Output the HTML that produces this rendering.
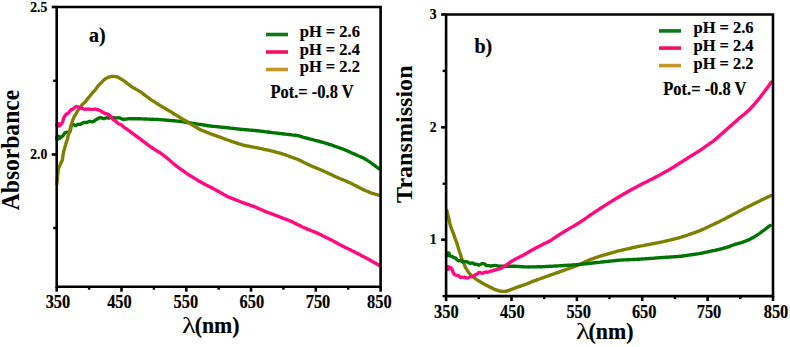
<!DOCTYPE html>
<html><head><meta charset="utf-8"><style>
html,body{margin:0;padding:0;background:#fff;}
body{width:790px;height:347px;overflow:hidden;}
svg{display:block;}
</style></head><body>
<svg width="790" height="347" viewBox="0 0 790 347">
<style>
text{font-family:"Liberation Serif",serif;font-weight:bold;fill:#000;stroke:#000;stroke-width:0.2px;}
.yt{font-size:14.2px;}
.xt{font-size:18.2px;}
.lg{font-size:17.1px;}
.pot{font-size:17.8px;}
.ttl{font-size:25.3px;stroke-width:0;}
.lam{font-size:23px;}
.lamg{font-size:23px;font-weight:normal;stroke-width:0.05px;}
.pl{font-size:20px;}
</style>
<rect width="790" height="347" fill="#fff"/>
<g fill="none" stroke-width="3.4" stroke-linejoin="round" stroke-linecap="round">
<path d="M56.7,138.9 C56.9,138.9 57.7,139.0 58.2,138.9 C58.7,138.7 59.2,138.4 59.7,138.1 C60.2,137.8 60.6,137.4 61.0,137.1 C61.5,136.8 61.8,136.6 62.2,136.4 C62.5,136.1 62.8,135.9 63.1,135.5 C63.4,135.1 63.7,134.7 64.0,134.2 C64.3,133.8 64.6,133.4 64.9,133.0 C65.3,132.7 65.6,132.4 66.1,132.3 C66.5,132.1 67.1,132.1 67.5,132.2 C68.0,132.3 68.3,132.9 68.6,132.9 C69.0,132.9 69.2,132.5 69.5,132.3 C69.7,132.0 69.9,131.8 70.0,131.4 C70.2,131.0 70.3,130.5 70.4,130.0 C70.6,129.4 70.7,128.6 70.8,128.0 C70.9,127.3 71.0,126.6 71.2,126.1 C71.5,125.5 71.8,124.8 72.2,124.6 C72.6,124.3 73.2,124.4 73.6,124.6 C74.1,124.7 74.5,125.4 75.0,125.5 C75.4,125.6 75.9,125.4 76.3,125.2 C76.8,125.0 77.3,124.5 77.7,124.4 C78.2,124.2 78.6,124.3 79.0,124.3 C79.5,124.3 80.0,124.5 80.4,124.3 C80.9,124.2 81.4,123.8 81.9,123.5 C82.4,123.2 82.8,122.8 83.3,122.6 C83.8,122.4 84.3,122.4 84.8,122.4 C85.3,122.4 85.8,122.6 86.3,122.5 C86.8,122.5 87.3,122.2 87.8,122.1 C88.2,121.9 88.7,121.6 89.2,121.5 C89.7,121.4 90.2,121.4 90.7,121.4 C91.2,121.5 91.7,121.8 92.1,121.8 C92.6,121.8 93.1,121.7 93.6,121.4 C94.1,121.2 94.6,120.6 95.1,120.2 C95.5,119.9 96.0,119.7 96.5,119.5 C97.0,119.2 97.4,119.0 97.9,118.7 C98.4,118.4 98.8,118.0 99.3,117.9 C99.8,117.7 100.3,117.7 100.8,117.7 C101.3,117.8 101.8,118.0 102.3,118.2 C102.8,118.3 103.3,118.6 103.8,118.6 C104.3,118.6 104.8,118.3 105.3,118.2 C105.8,118.1 106.3,117.8 106.8,117.8 C107.3,117.8 107.8,118.1 108.3,118.1 C108.8,118.2 109.3,118.0 109.8,117.9 C110.3,117.8 110.8,117.5 111.3,117.4 C111.8,117.4 112.3,117.6 112.8,117.6 C113.3,117.7 113.8,117.8 114.3,117.8 C114.8,117.9 115.3,117.9 115.8,117.9 C116.3,117.9 116.8,117.9 117.3,117.9 C117.8,117.8 118.3,117.6 118.8,117.6 C119.3,117.7 119.8,118.0 120.3,118.2 C120.8,118.4 121.3,118.8 121.7,119.0 C122.2,119.2 122.7,119.2 123.2,119.2 C123.7,119.3 124.2,119.3 124.7,119.2 C125.2,119.2 125.7,119.2 126.2,119.1 C126.7,119.1 127.2,118.9 127.7,118.8 C128.2,118.7 128.7,118.7 129.2,118.6 C129.7,118.6 130.2,118.7 130.7,118.7 C131.2,118.7 131.7,118.7 132.2,118.7 C132.7,118.7 133.2,118.7 133.7,118.7 C134.2,118.7 134.7,118.7 135.2,118.7 C135.7,118.7 136.2,118.7 136.7,118.8 C137.2,118.8 137.7,118.8 138.2,118.8 C138.7,118.8 139.2,118.8 139.7,118.8 C140.2,118.8 140.7,118.8 141.2,118.9 C141.7,118.9 142.2,118.9 142.7,118.9 C143.2,118.9 143.7,118.9 144.2,119.0 C144.7,119.0 145.2,119.0 145.7,119.0 C146.2,119.0 146.7,119.1 147.2,119.1 C147.7,119.1 148.2,119.1 148.7,119.1 C149.2,119.2 149.7,119.2 150.2,119.2 C150.7,119.2 151.2,119.2 151.7,119.3 C152.2,119.3 152.7,119.3 153.2,119.3 C153.7,119.3 154.2,119.4 154.7,119.4 C155.2,119.4 155.7,119.4 156.2,119.4 C156.7,119.5 157.2,119.5 157.7,119.5 C158.2,119.5 158.7,119.6 159.2,119.6 C159.7,119.6 160.2,119.6 160.7,119.7 C161.2,119.7 161.7,119.7 162.2,119.8 C162.7,119.8 163.2,119.9 163.7,119.9 C164.2,120.0 164.7,120.0 165.2,120.0 C165.7,120.1 166.2,120.1 166.7,120.2 C167.2,120.2 167.7,120.3 168.2,120.3 C168.7,120.3 169.2,120.4 169.7,120.4 C170.2,120.5 170.7,120.5 171.2,120.6 C171.7,120.6 172.2,120.6 172.7,120.7 C173.2,120.7 173.7,120.8 174.2,120.8 C174.7,120.8 175.2,120.9 175.7,120.9 C176.2,121.0 176.7,121.0 177.2,121.1 C177.7,121.1 178.2,121.1 178.7,121.2 C179.2,121.2 179.7,121.3 180.2,121.3 C180.7,121.4 181.1,121.5 181.6,121.6 C182.1,121.6 182.6,121.7 183.1,121.8 C183.6,121.9 184.1,121.9 184.6,122.0 C185.1,122.1 185.6,122.2 186.1,122.2 C186.6,122.3 187.1,122.4 187.6,122.5 C188.1,122.6 188.6,122.6 189.1,122.7 C189.5,122.8 190.0,122.9 190.5,122.9 C191.0,123.0 191.5,123.1 192.0,123.2 C192.5,123.2 193.0,123.3 193.5,123.4 C194.0,123.5 194.5,123.5 195.0,123.6 C195.5,123.7 196.0,123.8 196.5,123.9 C197.0,123.9 197.5,124.0 197.9,124.1 C198.4,124.2 198.9,124.2 199.4,124.3 C199.9,124.4 200.4,124.5 200.9,124.5 C201.4,124.6 201.9,124.7 202.4,124.8 C202.9,124.9 203.4,124.9 203.9,125.0 C204.4,125.1 204.9,125.2 205.4,125.3 C205.8,125.3 206.3,125.4 206.8,125.5 C207.3,125.6 207.8,125.7 208.3,125.7 C208.8,125.8 209.3,125.9 209.8,126.0 C210.3,126.0 210.8,126.1 211.3,126.1 C211.8,126.2 212.3,126.2 212.8,126.3 C213.3,126.3 213.8,126.4 214.3,126.4 C214.8,126.5 215.3,126.5 215.8,126.6 C216.3,126.6 216.8,126.7 217.3,126.7 C217.8,126.8 218.3,126.8 218.8,126.9 C219.3,126.9 219.7,127.0 220.2,127.0 C220.7,127.1 221.2,127.1 221.7,127.2 C222.2,127.2 222.7,127.3 223.2,127.3 C223.7,127.4 224.2,127.4 224.7,127.5 C225.2,127.5 225.7,127.6 226.2,127.6 C226.7,127.7 227.2,127.7 227.7,127.8 C228.2,127.8 228.7,127.9 229.2,127.9 C229.7,128.0 230.2,128.0 230.7,128.1 C231.2,128.1 231.7,128.2 232.2,128.3 C232.7,128.3 233.2,128.4 233.7,128.4 C234.2,128.5 234.7,128.6 235.2,128.6 C235.7,128.7 236.2,128.7 236.6,128.8 C237.1,128.9 237.6,128.9 238.1,129.0 C238.6,129.0 239.1,129.1 239.6,129.1 C240.1,129.2 240.6,129.2 241.1,129.3 C241.6,129.3 242.1,129.4 242.6,129.4 C243.1,129.5 243.6,129.5 244.1,129.6 C244.6,129.6 245.1,129.7 245.6,129.7 C246.1,129.7 246.6,129.8 247.1,129.8 C247.6,129.9 248.1,129.9 248.6,130.0 C249.1,130.0 249.6,130.1 250.1,130.1 C250.6,130.1 251.1,130.2 251.6,130.2 C252.1,130.3 252.6,130.3 253.1,130.4 C253.6,130.4 254.1,130.4 254.6,130.5 C255.1,130.5 255.6,130.6 256.1,130.6 C256.6,130.7 257.1,130.7 257.6,130.8 C258.1,130.8 258.5,130.9 259.0,131.0 C259.5,131.0 260.0,131.1 260.5,131.1 C261.0,131.2 261.5,131.3 262.0,131.3 C262.5,131.4 263.0,131.4 263.5,131.5 C264.0,131.6 264.5,131.6 265.0,131.7 C265.5,131.7 266.0,131.8 266.5,131.9 C267.0,131.9 267.5,132.0 268.0,132.0 C268.5,132.1 269.0,132.2 269.5,132.2 C270.0,132.3 270.5,132.3 271.0,132.4 C271.5,132.5 271.9,132.5 272.4,132.6 C272.9,132.6 273.4,132.7 273.9,132.8 C274.4,132.8 274.9,132.9 275.4,132.9 C275.9,133.0 276.4,133.1 276.9,133.1 C277.4,133.2 277.9,133.2 278.4,133.3 C278.9,133.4 279.4,133.4 279.9,133.5 C280.4,133.5 280.9,133.6 281.4,133.7 C281.9,133.7 282.4,133.8 282.9,133.8 C283.4,133.9 283.9,134.0 284.4,134.0 C284.9,134.1 285.4,134.1 285.9,134.2 C286.3,134.2 286.8,134.3 287.3,134.4 C287.8,134.4 288.3,134.5 288.8,134.5 C289.3,134.6 289.8,134.6 290.3,134.7 C290.8,134.8 291.3,134.8 291.8,134.9 C292.3,134.9 292.8,135.0 293.3,135.1 C293.8,135.1 294.3,135.2 294.8,135.2 C295.3,135.3 295.8,135.3 296.3,135.4 C296.8,135.5 297.3,135.5 297.8,135.6 C298.2,135.7 298.7,135.8 299.2,136.0 C299.7,136.1 300.2,136.3 300.7,136.4 C301.1,136.5 301.6,136.7 302.1,136.8 C302.6,137.0 303.1,137.1 303.5,137.3 C304.0,137.4 304.5,137.5 305.0,137.7 C305.5,137.8 305.9,137.9 306.4,138.1 C306.9,138.2 307.4,138.3 307.9,138.4 C308.4,138.6 308.8,138.7 309.3,138.8 C309.8,138.9 310.3,139.0 310.8,139.2 C311.3,139.3 311.8,139.4 312.2,139.5 C312.7,139.7 313.2,139.8 313.7,139.9 C314.2,140.0 314.7,140.2 315.1,140.3 C315.6,140.4 316.1,140.5 316.6,140.6 C317.1,140.8 317.6,140.9 318.1,141.0 C318.5,141.2 319.0,141.3 319.5,141.4 C320.0,141.6 320.5,141.7 320.9,141.8 C321.4,142.0 321.9,142.1 322.4,142.2 C322.9,142.4 323.3,142.5 323.8,142.7 C324.3,142.8 324.8,142.9 325.3,143.1 C325.8,143.2 326.2,143.3 326.7,143.5 C327.2,143.6 327.7,143.7 328.2,143.9 C328.6,144.0 329.1,144.2 329.6,144.3 C330.1,144.4 330.5,144.6 331.0,144.8 C331.5,144.9 332.0,145.1 332.4,145.3 C332.9,145.4 333.4,145.6 333.9,145.8 C334.3,145.9 334.8,146.1 335.3,146.3 C335.7,146.4 336.2,146.6 336.7,146.8 C337.2,146.9 337.6,147.1 338.1,147.3 C338.6,147.4 339.0,147.6 339.5,147.8 C340.0,147.9 340.5,148.1 340.9,148.3 C341.4,148.4 341.9,148.6 342.3,148.8 C342.8,149.0 343.3,149.1 343.7,149.3 C344.2,149.5 344.6,149.7 345.1,149.9 C345.6,150.1 346.0,150.3 346.5,150.5 C346.9,150.7 347.4,150.9 347.8,151.1 C348.3,151.3 348.8,151.5 349.2,151.7 C349.7,151.9 350.1,152.2 350.6,152.4 C351.0,152.6 351.5,152.8 352.0,153.0 C352.4,153.2 352.9,153.4 353.3,153.6 C353.8,153.8 354.2,154.0 354.7,154.2 C355.2,154.4 355.6,154.6 356.1,154.8 C356.5,155.0 357.0,155.2 357.5,155.4 C357.9,155.6 358.4,155.8 358.8,156.0 C359.3,156.2 359.7,156.4 360.2,156.6 C360.7,156.8 361.1,157.0 361.6,157.2 C362.0,157.4 362.5,157.6 362.9,157.8 C363.4,158.1 363.8,158.3 364.2,158.6 C364.7,158.8 365.1,159.1 365.5,159.3 C366.0,159.6 366.4,159.8 366.8,160.1 C367.2,160.3 367.7,160.6 368.1,160.9 C368.5,161.1 369.0,161.4 369.4,161.7 C369.8,161.9 370.2,162.2 370.6,162.5 C371.0,162.8 371.4,163.1 371.8,163.4 C372.2,163.7 372.6,164.0 373.0,164.3 C373.4,164.6 373.8,164.9 374.2,165.2 C374.6,165.5 375.0,165.8 375.4,166.1 C375.8,166.4 376.2,166.7 376.6,167.0 C377.0,167.3 377.4,167.6 377.8,167.9 C378.2,168.2 378.8,168.6 379.0,168.8" stroke="#007400"/>
<path d="M56.9,184.3 C56.9,184.0 57.0,183.2 57.0,182.7 C57.1,182.2 57.1,181.6 57.2,181.1 C57.2,180.6 57.3,180.2 57.3,179.7 C57.3,179.2 57.4,178.6 57.4,178.0 C57.5,177.4 57.5,176.7 57.6,176.2 C57.6,175.7 57.7,175.4 57.7,175.0 C57.7,174.6 57.8,174.3 57.8,173.8 C57.9,173.4 57.9,172.8 58.0,172.3 C58.0,171.7 58.1,171.1 58.1,170.6 C58.2,170.1 58.3,169.7 58.4,169.3 C58.5,168.8 58.6,168.4 58.8,167.9 C58.9,167.5 59.1,167.1 59.3,166.6 C59.6,166.1 59.8,165.6 60.0,165.1 C60.2,164.6 60.4,164.0 60.7,163.6 C60.9,163.1 61.1,162.7 61.3,162.3 C61.5,161.9 61.7,161.5 61.9,161.1 C62.0,160.7 62.1,160.4 62.3,160.0 C62.4,159.5 62.5,159.0 62.6,158.5 C62.7,157.9 62.7,157.2 62.8,156.6 C62.9,156.0 63.0,155.4 63.1,154.9 C63.2,154.4 63.2,154.1 63.3,153.6 C63.4,153.1 63.5,152.6 63.6,152.1 C63.7,151.6 63.8,151.1 63.9,150.7 C64.0,150.3 64.1,150.1 64.2,149.7 C64.4,149.3 64.5,148.9 64.6,148.4 C64.8,147.9 64.9,147.2 65.0,146.7 C65.2,146.1 65.3,145.6 65.5,145.1 C65.6,144.5 65.7,144.1 65.9,143.6 C66.0,143.1 66.2,142.4 66.4,141.9 C66.6,141.3 66.7,140.8 66.9,140.4 C67.1,140.0 67.2,139.8 67.4,139.3 C67.5,138.8 67.6,138.2 67.8,137.6 C67.9,137.0 68.0,136.2 68.1,135.7 C68.3,135.1 68.4,134.8 68.5,134.4 C68.7,134.1 68.8,134.1 68.9,133.8 C69.0,133.5 69.2,133.2 69.3,132.7 C69.4,132.2 69.5,131.6 69.7,131.0 C69.8,130.4 69.9,129.8 70.1,129.2 C70.2,128.7 70.3,128.2 70.5,127.7 C70.6,127.1 70.8,126.6 70.9,126.1 C71.0,125.6 71.2,125.1 71.3,124.6 C71.4,124.1 71.6,123.5 71.7,123.1 C71.9,122.6 72.0,122.1 72.2,121.7 C72.3,121.3 72.5,121.0 72.6,120.5 C72.8,120.1 72.9,119.6 73.1,119.2 C73.3,118.7 73.5,118.3 73.7,117.8 C73.9,117.4 74.1,117.0 74.4,116.6 C74.6,116.1 74.9,115.7 75.1,115.2 C75.4,114.8 75.6,114.5 75.9,114.0 C76.2,113.6 76.4,113.1 76.7,112.6 C77.0,112.0 77.3,111.4 77.5,110.9 C77.8,110.4 78.1,110.2 78.4,109.8 C78.7,109.4 79.0,109.1 79.2,108.7 C79.5,108.3 79.8,107.8 80.1,107.4 C80.4,107.0 80.7,106.5 81.0,106.1 C81.3,105.7 81.6,105.2 81.9,104.9 C82.2,104.5 82.5,104.3 82.9,104.0 C83.2,103.7 83.5,103.4 83.8,103.1 C84.1,102.7 84.5,102.4 84.8,102.1 C85.1,101.8 85.5,101.6 85.8,101.2 C86.1,100.9 86.5,100.3 86.8,99.9 C87.2,99.4 87.5,98.8 87.9,98.4 C88.2,97.9 88.6,97.6 88.9,97.2 C89.2,96.8 89.6,96.4 89.9,96.1 C90.2,95.7 90.5,95.3 90.8,95.0 C91.1,94.6 91.4,94.3 91.7,93.9 C92.0,93.6 92.3,93.0 92.6,92.6 C92.9,92.3 93.2,91.9 93.6,91.6 C93.9,91.3 94.2,91.2 94.5,90.9 C94.8,90.5 95.1,90.0 95.5,89.5 C95.8,89.1 96.1,88.6 96.4,88.2 C96.7,87.7 97.0,87.3 97.3,86.9 C97.6,86.5 97.9,86.1 98.3,85.7 C98.6,85.3 99.0,84.9 99.3,84.6 C99.7,84.2 100.0,83.8 100.4,83.5 C100.8,83.1 101.1,82.8 101.5,82.5 C101.8,82.1 102.2,81.7 102.5,81.4 C102.9,81.0 103.2,80.7 103.6,80.3 C103.9,80.0 104.3,79.6 104.7,79.3 C105.1,79.0 105.5,78.7 105.9,78.4 C106.3,78.2 106.8,78.0 107.3,77.8 C107.7,77.6 108.2,77.4 108.6,77.2 C109.1,77.1 109.6,76.9 110.1,76.8 C110.6,76.7 111.1,76.6 111.6,76.5 C112.1,76.5 112.6,76.4 113.0,76.4 C113.5,76.4 114.0,76.4 114.5,76.5 C115.0,76.5 115.5,76.6 116.0,76.7 C116.5,76.8 117.0,77.0 117.4,77.2 C117.9,77.3 118.4,77.5 118.8,77.7 C119.3,77.9 119.7,78.2 120.1,78.5 C120.6,78.7 121.0,79.0 121.4,79.2 C121.8,79.5 122.3,79.8 122.7,80.1 C123.1,80.3 123.5,80.6 123.9,80.9 C124.4,81.2 124.8,81.5 125.2,81.7 C125.6,82.0 126.0,82.4 126.4,82.7 C126.7,83.0 127.1,83.3 127.5,83.6 C127.9,83.9 128.3,84.2 128.7,84.5 C129.1,84.8 129.5,85.1 129.9,85.4 C130.3,85.7 130.7,86.0 131.1,86.3 C131.5,86.6 132.0,86.8 132.4,87.1 C132.8,87.4 133.2,87.6 133.7,87.9 C134.1,88.1 134.5,88.4 135.0,88.6 C135.4,88.9 135.8,89.1 136.3,89.4 C136.7,89.6 137.1,89.9 137.6,90.1 C138.0,90.4 138.4,90.6 138.9,90.9 C139.3,91.1 139.7,91.4 140.1,91.7 C140.5,92.0 141.0,92.3 141.4,92.5 C141.8,92.8 142.2,93.1 142.6,93.4 C143.0,93.7 143.4,94.1 143.8,94.4 C144.2,94.7 144.6,95.0 145.0,95.3 C145.4,95.6 145.8,95.9 146.2,96.2 C146.6,96.5 147.0,96.7 147.4,97.0 C147.8,97.3 148.2,97.6 148.6,97.9 C149.0,98.2 149.4,98.5 149.8,98.8 C150.2,99.1 150.6,99.4 151.0,99.7 C151.4,99.9 151.9,100.2 152.3,100.5 C152.7,100.8 153.1,101.0 153.5,101.3 C154.0,101.6 154.4,101.8 154.8,102.1 C155.2,102.4 155.6,102.7 156.0,102.9 C156.5,103.2 156.9,103.5 157.3,103.7 C157.7,104.0 158.1,104.3 158.6,104.6 C159.0,104.8 159.4,105.1 159.8,105.4 C160.3,105.6 160.7,105.9 161.1,106.1 C161.5,106.4 162.0,106.6 162.4,106.9 C162.8,107.2 163.3,107.4 163.7,107.7 C164.1,107.9 164.6,108.2 165.0,108.4 C165.4,108.7 165.9,108.9 166.3,109.2 C166.7,109.4 167.2,109.7 167.6,109.9 C168.0,110.2 168.5,110.4 168.9,110.7 C169.3,110.9 169.8,111.2 170.2,111.4 C170.6,111.7 171.0,112.0 171.5,112.2 C171.9,112.5 172.3,112.7 172.7,113.0 C173.2,113.3 173.6,113.5 174.0,113.8 C174.4,114.1 174.9,114.3 175.3,114.6 C175.7,114.8 176.1,115.1 176.6,115.4 C177.0,115.6 177.4,115.9 177.8,116.2 C178.3,116.4 178.7,116.7 179.1,117.0 C179.5,117.2 180.0,117.5 180.4,117.7 C180.8,118.0 181.3,118.3 181.7,118.5 C182.1,118.8 182.5,119.0 183.0,119.3 C183.4,119.5 183.8,119.8 184.3,120.1 C184.7,120.3 185.1,120.6 185.5,120.8 C186.0,121.1 186.4,121.3 186.8,121.6 C187.3,121.9 187.7,122.1 188.1,122.4 C188.5,122.6 189.0,122.9 189.4,123.1 C189.8,123.4 190.3,123.7 190.7,123.9 C191.1,124.2 191.5,124.4 192.0,124.7 C192.4,124.9 192.8,125.2 193.3,125.5 C193.7,125.7 194.1,126.0 194.5,126.2 C195.0,126.5 195.4,126.7 195.8,127.0 C196.3,127.3 196.7,127.5 197.1,127.8 C197.5,128.0 198.0,128.3 198.4,128.5 C198.8,128.8 199.3,129.0 199.7,129.3 C200.2,129.5 200.6,129.7 201.1,129.9 C201.5,130.1 202.0,130.3 202.5,130.5 C202.9,130.7 203.4,130.9 203.8,131.1 C204.3,131.3 204.8,131.5 205.2,131.6 C205.7,131.8 206.2,132.0 206.6,132.2 C207.1,132.4 207.5,132.6 208.0,132.8 C208.5,133.0 208.9,133.2 209.4,133.3 C209.9,133.5 210.3,133.7 210.8,133.9 C211.3,134.0 211.7,134.2 212.2,134.4 C212.7,134.5 213.2,134.7 213.6,134.9 C214.1,135.0 214.6,135.2 215.0,135.4 C215.5,135.5 216.0,135.7 216.5,135.9 C216.9,136.0 217.4,136.2 217.9,136.4 C218.3,136.5 218.8,136.7 219.3,136.9 C219.7,137.1 220.2,137.2 220.7,137.4 C221.2,137.6 221.6,137.7 222.1,137.9 C222.6,138.1 223.0,138.3 223.5,138.4 C224.0,138.6 224.4,138.8 224.9,139.0 C225.4,139.1 225.8,139.3 226.3,139.5 C226.8,139.7 227.2,139.8 227.7,140.0 C228.2,140.2 228.7,140.4 229.1,140.5 C229.6,140.7 230.1,140.9 230.5,141.0 C231.0,141.2 231.5,141.4 232.0,141.5 C232.4,141.7 232.9,141.8 233.4,142.0 C233.9,142.1 234.3,142.3 234.8,142.4 C235.3,142.6 235.8,142.7 236.2,142.9 C236.7,143.0 237.2,143.2 237.7,143.3 C238.2,143.5 238.6,143.6 239.1,143.8 C239.6,143.9 240.1,144.1 240.5,144.2 C241.0,144.4 241.5,144.5 242.0,144.7 C242.4,144.8 242.9,145.0 243.4,145.1 C243.9,145.2 244.4,145.4 244.9,145.5 C245.4,145.6 245.8,145.7 246.3,145.8 C246.8,145.9 247.3,146.0 247.8,146.0 C248.3,146.1 248.8,146.2 249.3,146.3 C249.8,146.4 250.3,146.5 250.8,146.6 C251.2,146.7 251.7,146.8 252.2,146.9 C252.7,147.0 253.2,147.1 253.7,147.2 C254.2,147.3 254.7,147.4 255.2,147.5 C255.7,147.5 256.2,147.6 256.6,147.7 C257.1,147.8 257.6,147.9 258.1,148.0 C258.6,148.1 259.1,148.2 259.6,148.3 C260.1,148.4 260.6,148.5 261.1,148.6 C261.5,148.7 262.0,148.8 262.5,148.9 C263.0,149.0 263.5,149.2 264.0,149.3 C264.5,149.4 265.0,149.5 265.5,149.6 C265.9,149.7 266.4,149.8 266.9,149.9 C267.4,150.0 267.9,150.1 268.4,150.2 C268.9,150.3 269.4,150.4 269.9,150.5 C270.3,150.6 270.8,150.7 271.3,150.9 C271.8,151.0 272.3,151.1 272.8,151.2 C273.2,151.4 273.7,151.5 274.2,151.6 C274.7,151.8 275.2,151.9 275.7,152.0 C276.1,152.2 276.6,152.3 277.1,152.4 C277.6,152.5 278.1,152.7 278.6,152.8 C279.0,152.9 279.5,153.1 280.0,153.2 C280.5,153.3 281.0,153.5 281.5,153.6 C281.9,153.7 282.4,153.9 282.9,154.0 C283.4,154.2 283.8,154.3 284.3,154.5 C284.8,154.7 285.3,154.8 285.7,155.0 C286.2,155.2 286.7,155.3 287.1,155.5 C287.6,155.7 288.1,155.9 288.5,156.0 C289.0,156.2 289.5,156.4 290.0,156.5 C290.4,156.7 290.9,156.9 291.4,157.1 C291.8,157.2 292.3,157.4 292.8,157.6 C293.2,157.8 293.7,157.9 294.2,158.1 C294.6,158.3 295.1,158.4 295.6,158.6 C296.1,158.8 296.5,159.0 297.0,159.1 C297.5,159.3 297.9,159.5 298.4,159.7 C298.8,159.9 299.3,160.1 299.7,160.3 C300.2,160.6 300.6,160.8 301.1,161.0 C301.5,161.2 302.0,161.4 302.4,161.7 C302.9,161.9 303.3,162.1 303.8,162.3 C304.2,162.5 304.7,162.7 305.1,163.0 C305.6,163.2 306.0,163.4 306.5,163.6 C306.9,163.8 307.4,164.0 307.8,164.3 C308.3,164.5 308.7,164.7 309.2,164.9 C309.6,165.1 310.1,165.3 310.5,165.6 C311.0,165.8 311.5,166.0 311.9,166.2 C312.4,166.4 312.8,166.6 313.3,166.8 C313.8,166.9 314.2,167.1 314.7,167.3 C315.1,167.5 315.6,167.7 316.1,167.9 C316.5,168.1 317.0,168.3 317.5,168.5 C317.9,168.7 318.4,168.9 318.8,169.1 C319.3,169.2 319.8,169.4 320.2,169.6 C320.7,169.8 321.1,170.0 321.6,170.2 C322.1,170.4 322.5,170.6 323.0,170.8 C323.4,171.0 323.9,171.2 324.4,171.4 C324.8,171.6 325.3,171.8 325.7,172.0 C326.2,172.2 326.6,172.4 327.1,172.6 C327.5,172.9 328.0,173.1 328.4,173.3 C328.9,173.5 329.4,173.7 329.8,173.9 C330.3,174.1 330.7,174.3 331.2,174.6 C331.6,174.8 332.1,175.0 332.5,175.2 C333.0,175.4 333.4,175.6 333.9,175.8 C334.3,176.0 334.8,176.3 335.2,176.5 C335.7,176.7 336.1,176.9 336.6,177.1 C337.1,177.3 337.5,177.5 338.0,177.7 C338.4,177.9 338.9,178.1 339.3,178.3 C339.8,178.5 340.3,178.7 340.7,178.9 C341.2,179.1 341.7,179.3 342.1,179.5 C342.6,179.7 343.0,179.9 343.5,180.0 C344.0,180.2 344.4,180.4 344.9,180.6 C345.3,180.8 345.8,181.0 346.3,181.2 C346.7,181.4 347.2,181.6 347.6,181.8 C348.1,182.0 348.6,182.2 349.0,182.4 C349.5,182.6 349.9,182.8 350.4,183.0 C350.8,183.2 351.3,183.5 351.7,183.7 C352.2,183.9 352.6,184.1 353.1,184.4 C353.5,184.6 353.9,184.8 354.4,185.1 C354.8,185.3 355.3,185.5 355.7,185.7 C356.2,186.0 356.6,186.2 357.1,186.4 C357.5,186.7 357.9,186.9 358.4,187.1 C358.8,187.4 359.3,187.6 359.7,187.8 C360.2,188.0 360.6,188.3 361.1,188.5 C361.5,188.7 361.9,189.0 362.4,189.2 C362.8,189.4 363.3,189.6 363.8,189.8 C364.2,190.0 364.7,190.2 365.1,190.4 C365.6,190.6 366.0,190.8 366.5,191.0 C367.0,191.2 367.4,191.4 367.9,191.6 C368.3,191.8 368.8,192.0 369.2,192.2 C369.7,192.4 370.2,192.6 370.6,192.8 C371.1,192.9 371.6,193.1 372.1,193.3 C372.5,193.4 373.0,193.6 373.5,193.7 C374.0,193.8 374.5,194.0 374.9,194.1 C375.4,194.2 375.9,194.4 376.4,194.5 C376.9,194.6 377.3,194.8 377.8,194.9 C378.3,195.0 379.0,195.2 379.3,195.3" stroke="#808000"/>
<path d="M57.0,125.4 C57.2,125.4 58.0,125.6 58.5,125.6 C59.0,125.6 59.4,125.7 59.9,125.5 C60.3,125.2 60.7,124.6 61.1,124.2 C61.5,123.8 61.8,123.4 62.1,123.0 C62.4,122.6 62.5,122.3 62.7,121.8 C62.8,121.2 63.0,120.4 63.2,119.8 C63.3,119.2 63.5,118.7 63.7,118.2 C63.9,117.7 64.0,117.5 64.3,117.1 C64.5,116.6 64.8,116.1 65.1,115.6 C65.5,115.2 65.8,114.7 66.2,114.3 C66.5,114.0 66.9,113.8 67.3,113.5 C67.7,113.3 68.1,113.2 68.5,112.9 C68.9,112.6 69.2,112.2 69.5,111.7 C69.9,111.3 70.2,110.6 70.6,110.2 C70.9,109.8 71.3,109.5 71.6,109.4 C72.0,109.3 72.3,109.5 72.7,109.3 C73.1,109.2 73.4,108.7 73.8,108.3 C74.2,107.9 74.7,107.2 75.1,106.9 C75.6,106.6 76.1,106.6 76.6,106.7 C77.0,106.7 77.5,106.8 77.9,107.0 C78.4,107.1 78.8,107.3 79.2,107.4 C79.7,107.6 80.2,107.6 80.7,107.7 C81.2,107.9 81.7,108.1 82.2,108.3 C82.7,108.5 83.2,108.9 83.7,109.1 C84.2,109.2 84.7,109.3 85.2,109.3 C85.7,109.3 86.2,109.2 86.7,109.1 C87.2,109.1 87.7,109.0 88.2,109.0 C88.7,109.1 89.2,109.1 89.7,109.2 C90.2,109.2 90.7,109.3 91.2,109.4 C91.7,109.4 92.2,109.4 92.7,109.4 C93.2,109.3 93.7,109.1 94.2,109.1 C94.7,109.0 95.2,109.0 95.7,109.1 C96.2,109.2 96.6,109.4 97.1,109.5 C97.6,109.6 98.1,109.8 98.6,109.9 C99.1,110.1 99.5,110.3 100.0,110.5 C100.5,110.8 100.9,111.1 101.4,111.4 C101.8,111.7 102.3,112.0 102.7,112.2 C103.1,112.5 103.6,112.7 104.0,112.9 C104.5,113.1 104.9,113.4 105.4,113.6 C105.8,113.7 106.3,113.8 106.7,113.9 C107.1,114.0 107.6,114.0 108.0,114.3 C108.5,114.5 108.9,114.9 109.3,115.2 C109.8,115.5 110.1,115.9 110.5,116.3 C110.9,116.7 111.3,117.1 111.6,117.5 C112.0,118.0 112.3,118.5 112.7,118.9 C113.0,119.3 113.4,119.7 113.7,120.0 C114.1,120.3 114.4,120.4 114.8,120.7 C115.1,120.9 115.5,121.0 115.9,121.3 C116.3,121.6 116.6,122.1 117.1,122.4 C117.5,122.8 117.9,123.4 118.3,123.7 C118.7,123.9 119.1,123.9 119.5,124.1 C119.9,124.2 120.3,124.2 120.8,124.5 C121.2,124.7 121.6,125.1 122.0,125.4 C122.4,125.8 122.8,126.2 123.2,126.6 C123.6,126.9 124.0,127.2 124.4,127.5 C124.8,127.8 125.2,128.1 125.6,128.4 C126.0,128.7 126.4,128.9 126.8,129.2 C127.2,129.5 127.6,129.8 128.1,130.1 C128.5,130.4 128.9,130.7 129.3,131.0 C129.7,131.3 130.1,131.6 130.5,131.9 C130.9,132.2 131.3,132.4 131.7,132.7 C132.1,133.0 132.5,133.3 132.9,133.6 C133.3,133.9 133.7,134.2 134.1,134.5 C134.5,134.8 134.9,135.1 135.3,135.4 C135.7,135.7 136.1,136.0 136.5,136.3 C137.0,136.6 137.4,136.9 137.8,137.2 C138.2,137.5 138.6,137.8 139.0,138.1 C139.4,138.3 139.8,138.6 140.2,138.9 C140.6,139.2 141.0,139.6 141.4,139.9 C141.8,140.2 142.2,140.5 142.6,140.8 C143.0,141.1 143.3,141.4 143.7,141.7 C144.1,142.0 144.5,142.3 144.9,142.6 C145.3,142.9 145.7,143.2 146.1,143.5 C146.5,143.8 146.9,144.1 147.3,144.4 C147.7,144.7 148.1,145.0 148.5,145.3 C148.9,145.6 149.3,145.9 149.7,146.2 C150.1,146.5 150.5,146.8 150.9,147.1 C151.4,147.4 151.8,147.6 152.2,147.9 C152.6,148.2 153.1,148.4 153.5,148.7 C153.9,149.0 154.3,149.2 154.7,149.5 C155.2,149.8 155.6,150.0 156.0,150.3 C156.4,150.6 156.9,150.8 157.3,151.1 C157.7,151.4 158.1,151.6 158.6,151.9 C159.0,152.2 159.4,152.4 159.8,152.7 C160.2,153.0 160.6,153.3 161.1,153.5 C161.5,153.8 161.9,154.1 162.3,154.4 C162.7,154.7 163.1,155.0 163.5,155.3 C163.9,155.6 164.3,155.8 164.7,156.2 C165.1,156.5 165.5,156.8 165.9,157.1 C166.3,157.4 166.7,157.7 167.0,158.1 C167.4,158.4 167.8,158.7 168.2,159.0 C168.5,159.4 168.9,159.7 169.3,160.0 C169.7,160.3 170.1,160.7 170.4,161.0 C170.8,161.3 171.2,161.7 171.6,162.0 C172.0,162.3 172.3,162.6 172.7,163.0 C173.1,163.3 173.5,163.6 173.8,163.9 C174.2,164.3 174.6,164.6 175.0,164.9 C175.4,165.2 175.8,165.6 176.1,165.9 C176.5,166.2 177.0,166.5 177.4,166.8 C177.8,167.0 178.2,167.3 178.6,167.6 C179.0,167.9 179.4,168.2 179.8,168.5 C180.2,168.8 180.6,169.1 181.0,169.4 C181.4,169.6 181.8,169.9 182.3,170.2 C182.7,170.5 183.1,170.8 183.5,171.1 C183.9,171.4 184.3,171.7 184.7,172.0 C185.1,172.2 185.5,172.5 185.9,172.8 C186.3,173.1 186.7,173.4 187.1,173.7 C187.6,174.0 188.0,174.3 188.4,174.5 C188.8,174.8 189.2,175.1 189.6,175.4 C190.1,175.6 190.5,175.9 190.9,176.1 C191.3,176.4 191.8,176.7 192.2,176.9 C192.6,177.2 193.1,177.4 193.5,177.7 C193.9,178.0 194.3,178.2 194.8,178.5 C195.2,178.7 195.6,179.0 196.1,179.2 C196.5,179.5 196.9,179.8 197.3,180.0 C197.8,180.3 198.2,180.5 198.6,180.8 C199.1,181.0 199.5,181.3 199.9,181.6 C200.3,181.8 200.8,182.1 201.2,182.3 C201.6,182.6 202.1,182.8 202.5,183.0 C203.0,183.3 203.4,183.5 203.8,183.7 C204.3,184.0 204.7,184.2 205.2,184.4 C205.6,184.7 206.1,184.9 206.5,185.1 C207.0,185.4 207.4,185.6 207.8,185.8 C208.3,186.0 208.7,186.3 209.2,186.5 C209.6,186.7 210.1,187.0 210.5,187.2 C211.0,187.4 211.4,187.6 211.8,187.9 C212.3,188.1 212.7,188.3 213.2,188.6 C213.6,188.8 214.1,189.0 214.5,189.3 C214.9,189.5 215.4,189.7 215.8,190.0 C216.3,190.2 216.7,190.5 217.1,190.7 C217.6,190.9 218.0,191.2 218.4,191.4 C218.9,191.7 219.3,191.9 219.8,192.2 C220.2,192.4 220.6,192.7 221.1,192.9 C221.5,193.1 221.9,193.4 222.4,193.6 C222.8,193.9 223.2,194.1 223.7,194.4 C224.1,194.6 224.5,194.9 225.0,195.1 C225.4,195.4 225.9,195.6 226.3,195.8 C226.7,196.1 227.2,196.3 227.6,196.6 C228.1,196.8 228.5,197.0 229.0,197.2 C229.4,197.4 229.9,197.5 230.4,197.7 C230.8,197.9 231.3,198.1 231.8,198.3 C232.2,198.5 232.7,198.6 233.2,198.8 C233.6,199.0 234.1,199.2 234.6,199.4 C235.0,199.6 235.5,199.7 236.0,199.9 C236.4,200.1 236.9,200.3 237.3,200.5 C237.8,200.7 238.3,200.8 238.7,201.0 C239.2,201.2 239.7,201.4 240.1,201.6 C240.6,201.7 241.1,201.9 241.5,202.1 C242.0,202.3 242.5,202.4 243.0,202.6 C243.4,202.8 243.9,202.9 244.4,203.1 C244.8,203.3 245.3,203.4 245.8,203.6 C246.3,203.8 246.7,203.9 247.2,204.1 C247.7,204.3 248.1,204.4 248.6,204.6 C249.1,204.8 249.6,204.9 250.0,205.1 C250.5,205.3 251.0,205.4 251.4,205.6 C251.9,205.8 252.4,205.9 252.9,206.1 C253.3,206.3 253.8,206.5 254.3,206.7 C254.7,206.8 255.2,207.0 255.6,207.2 C256.1,207.4 256.6,207.6 257.0,207.8 C257.5,208.0 257.9,208.2 258.4,208.4 C258.8,208.6 259.3,208.8 259.8,209.0 C260.2,209.2 260.7,209.4 261.1,209.6 C261.6,209.8 262.1,210.0 262.5,210.2 C263.0,210.4 263.4,210.6 263.9,210.8 C264.4,211.0 264.8,211.2 265.3,211.4 C265.7,211.6 266.2,211.8 266.7,211.9 C267.1,212.1 267.6,212.3 268.1,212.5 C268.5,212.6 269.0,212.8 269.5,213.0 C270.0,213.2 270.4,213.3 270.9,213.5 C271.4,213.7 271.8,213.9 272.3,214.0 C272.8,214.2 273.2,214.4 273.7,214.6 C274.2,214.8 274.6,214.9 275.1,215.1 C275.6,215.3 276.0,215.5 276.5,215.6 C277.0,215.8 277.4,216.0 277.9,216.2 C278.4,216.3 278.8,216.5 279.3,216.7 C279.8,216.9 280.2,217.1 280.7,217.3 C281.2,217.4 281.6,217.6 282.1,217.8 C282.6,218.0 283.0,218.2 283.5,218.4 C284.0,218.5 284.4,218.7 284.9,218.9 C285.4,219.1 285.8,219.3 286.3,219.5 C286.8,219.6 287.2,219.8 287.7,220.0 C288.1,220.2 288.6,220.4 289.1,220.5 C289.5,220.7 290.0,220.9 290.5,221.1 C290.9,221.3 291.4,221.5 291.8,221.7 C292.3,221.9 292.7,222.2 293.2,222.4 C293.6,222.6 294.1,222.8 294.5,223.0 C295.0,223.3 295.4,223.5 295.9,223.7 C296.3,223.9 296.8,224.1 297.2,224.4 C297.7,224.6 298.1,224.8 298.6,225.0 C299.0,225.2 299.5,225.5 299.9,225.7 C300.4,225.9 300.8,226.1 301.3,226.4 C301.7,226.6 302.2,226.8 302.6,227.0 C303.1,227.2 303.5,227.4 304.0,227.7 C304.4,227.9 304.9,228.1 305.3,228.2 C305.8,228.4 306.3,228.6 306.7,228.8 C307.2,229.0 307.7,229.2 308.1,229.4 C308.6,229.6 309.0,229.8 309.5,229.9 C310.0,230.1 310.4,230.3 310.9,230.5 C311.4,230.7 311.8,230.9 312.3,231.1 C312.7,231.3 313.2,231.5 313.7,231.6 C314.1,231.8 314.6,232.0 315.1,232.2 C315.5,232.4 316.0,232.6 316.5,232.8 C316.9,233.0 317.4,233.2 317.8,233.4 C318.3,233.6 318.7,233.8 319.2,234.1 C319.6,234.3 320.1,234.5 320.5,234.7 C321.0,234.9 321.4,235.1 321.9,235.4 C322.3,235.6 322.8,235.8 323.2,236.0 C323.7,236.2 324.1,236.4 324.6,236.7 C325.0,236.9 325.5,237.1 325.9,237.3 C326.4,237.5 326.8,237.8 327.3,238.0 C327.7,238.2 328.2,238.4 328.6,238.6 C329.1,238.9 329.5,239.1 330.0,239.3 C330.4,239.5 330.8,239.8 331.3,240.0 C331.7,240.2 332.2,240.5 332.6,240.7 C333.1,240.9 333.5,241.2 333.9,241.4 C334.4,241.7 334.8,241.9 335.3,242.1 C335.7,242.4 336.1,242.6 336.6,242.8 C337.0,243.1 337.5,243.3 337.9,243.6 C338.3,243.8 338.8,244.0 339.2,244.3 C339.7,244.5 340.1,244.7 340.5,245.0 C341.0,245.2 341.4,245.4 341.9,245.7 C342.3,245.9 342.7,246.2 343.2,246.4 C343.6,246.6 344.1,246.8 344.5,247.0 C345.0,247.3 345.4,247.5 345.9,247.7 C346.3,247.9 346.8,248.2 347.2,248.4 C347.7,248.6 348.1,248.8 348.6,249.0 C349.0,249.3 349.5,249.5 349.9,249.7 C350.4,249.9 350.8,250.1 351.3,250.4 C351.7,250.6 352.2,250.8 352.6,251.0 C353.0,251.2 353.5,251.5 353.9,251.7 C354.4,251.9 354.8,252.1 355.3,252.4 C355.7,252.6 356.2,252.8 356.6,253.0 C357.1,253.3 357.5,253.5 358.0,253.7 C358.4,254.0 358.8,254.2 359.3,254.4 C359.7,254.7 360.2,254.9 360.6,255.1 C361.1,255.3 361.5,255.6 361.9,255.8 C362.4,256.0 362.8,256.3 363.3,256.5 C363.7,256.7 364.2,257.0 364.6,257.2 C365.0,257.4 365.5,257.7 365.9,257.9 C366.4,258.1 366.8,258.4 367.3,258.6 C367.7,258.8 368.1,259.1 368.6,259.3 C369.0,259.5 369.5,259.8 369.9,260.0 C370.3,260.3 370.8,260.5 371.2,260.8 C371.6,261.0 372.1,261.3 372.5,261.5 C372.9,261.8 373.4,262.0 373.8,262.3 C374.2,262.5 374.7,262.8 375.1,263.0 C375.5,263.2 376.0,263.5 376.4,263.7 C376.8,264.0 377.3,264.2 377.7,264.5 C378.1,264.7 378.8,265.1 379.0,265.2" stroke="#ff0a80"/>
<path d="M446.9,210.5 C447.0,210.8 447.1,211.6 447.2,212.1 C447.3,212.6 447.5,213.1 447.6,213.5 C447.7,213.8 447.8,214.0 447.9,214.4 C448.0,214.8 448.1,215.2 448.2,215.8 C448.3,216.3 448.5,217.2 448.6,217.9 C448.7,218.5 448.8,219.0 448.9,219.5 C449.0,219.9 449.2,220.2 449.3,220.7 C449.4,221.2 449.5,221.8 449.6,222.3 C449.8,222.9 449.9,223.5 450.0,224.0 C450.2,224.6 450.3,225.2 450.4,225.7 C450.6,226.2 450.7,226.5 450.9,226.9 C451.0,227.3 451.2,227.6 451.4,228.1 C451.5,228.5 451.7,229.1 451.9,229.6 C452.1,230.1 452.2,230.5 452.4,230.9 C452.6,231.4 452.7,231.8 452.9,232.2 C453.1,232.6 453.3,233.1 453.4,233.6 C453.6,234.0 453.8,234.5 453.9,235.0 C454.1,235.5 454.3,236.1 454.5,236.6 C454.6,237.1 454.8,237.6 455.0,238.1 C455.2,238.6 455.3,239.1 455.5,239.6 C455.7,240.1 455.8,240.5 456.0,240.9 C456.2,241.3 456.3,241.5 456.5,241.9 C456.7,242.2 456.8,242.8 457.0,243.3 C457.1,243.8 457.3,244.4 457.4,244.9 C457.6,245.4 457.8,245.8 457.9,246.3 C458.1,246.8 458.2,247.5 458.4,248.0 C458.5,248.6 458.6,249.1 458.8,249.5 C458.9,249.9 459.1,250.3 459.2,250.7 C459.4,251.1 459.5,251.6 459.7,252.1 C459.8,252.5 460.0,252.8 460.1,253.2 C460.3,253.6 460.4,254.0 460.6,254.6 C460.7,255.1 460.9,255.9 461.0,256.5 C461.2,257.0 461.3,257.6 461.5,258.1 C461.7,258.6 461.8,258.9 462.0,259.3 C462.2,259.7 462.3,260.0 462.5,260.3 C462.7,260.7 462.9,260.9 463.1,261.4 C463.2,261.8 463.4,262.3 463.6,262.8 C463.8,263.4 464.0,264.0 464.3,264.5 C464.5,265.1 464.7,265.7 464.9,266.2 C465.1,266.7 465.3,267.2 465.6,267.6 C465.8,268.1 466.0,268.3 466.3,268.7 C466.5,269.1 466.8,269.5 467.0,270.0 C467.3,270.4 467.6,270.9 467.9,271.3 C468.1,271.7 468.4,272.1 468.7,272.5 C469.0,272.9 469.4,273.3 469.7,273.6 C470.0,274.0 470.4,274.4 470.7,274.7 C471.1,275.1 471.4,275.5 471.8,275.8 C472.2,276.1 472.5,276.5 472.9,276.8 C473.3,277.1 473.7,277.4 474.1,277.7 C474.5,278.0 474.9,278.3 475.3,278.6 C475.7,278.9 476.1,279.2 476.5,279.5 C476.9,279.8 477.3,280.1 477.8,280.3 C478.2,280.6 478.6,280.8 479.0,281.1 C479.5,281.4 479.9,281.6 480.3,281.9 C480.7,282.1 481.2,282.4 481.6,282.6 C482.0,282.9 482.5,283.2 482.9,283.4 C483.3,283.7 483.8,283.9 484.2,284.1 C484.6,284.4 485.1,284.6 485.5,284.9 C486.0,285.1 486.4,285.3 486.9,285.6 C487.3,285.8 487.7,286.0 488.2,286.2 C488.6,286.5 489.1,286.7 489.5,286.9 C490.0,287.1 490.4,287.4 490.9,287.6 C491.3,287.8 491.8,288.0 492.2,288.2 C492.7,288.4 493.1,288.7 493.6,288.9 C494.0,289.1 494.5,289.3 495.0,289.5 C495.4,289.6 495.9,289.8 496.4,290.0 C496.8,290.1 497.3,290.3 497.8,290.4 C498.3,290.6 498.8,290.7 499.2,290.8 C499.7,291.0 500.2,291.1 500.7,291.1 C501.2,291.2 501.7,291.3 502.2,291.3 C502.7,291.4 503.2,291.4 503.7,291.4 C504.2,291.4 504.7,291.4 505.2,291.3 C505.7,291.2 506.2,291.1 506.7,291.0 C507.1,290.9 507.6,290.8 508.1,290.6 C508.6,290.5 509.1,290.3 509.5,290.2 C510.0,290.0 510.5,289.8 510.9,289.6 C511.4,289.5 511.9,289.3 512.3,289.1 C512.8,288.9 513.3,288.7 513.7,288.5 C514.2,288.4 514.7,288.2 515.1,288.0 C515.6,287.8 516.1,287.6 516.5,287.5 C517.0,287.3 517.5,287.1 517.9,286.9 C518.4,286.8 518.9,286.6 519.4,286.5 C519.8,286.3 520.3,286.1 520.8,286.0 C521.3,285.8 521.7,285.7 522.2,285.5 C522.7,285.4 523.2,285.2 523.6,285.0 C524.1,284.9 524.6,284.7 525.0,284.5 C525.5,284.3 526.0,284.2 526.4,284.0 C526.9,283.8 527.4,283.6 527.8,283.4 C528.3,283.2 528.8,283.0 529.2,282.9 C529.7,282.7 530.1,282.5 530.6,282.3 C531.1,282.1 531.5,281.9 532.0,281.7 C532.5,281.5 532.9,281.4 533.4,281.2 C533.9,281.0 534.3,280.8 534.8,280.6 C535.3,280.4 535.7,280.3 536.2,280.1 C536.7,279.9 537.1,279.8 537.6,279.6 C538.1,279.4 538.5,279.2 539.0,279.1 C539.5,278.9 539.9,278.7 540.4,278.6 C540.9,278.4 541.4,278.2 541.8,278.1 C542.3,277.9 542.8,277.7 543.2,277.6 C543.7,277.4 544.2,277.2 544.7,277.1 C545.1,276.9 545.6,276.7 546.1,276.6 C546.5,276.4 547.0,276.2 547.5,276.1 C548.0,275.9 548.4,275.7 548.9,275.6 C549.4,275.4 549.9,275.3 550.3,275.1 C550.8,274.9 551.3,274.8 551.7,274.6 C552.2,274.4 552.7,274.3 553.2,274.1 C553.6,273.9 554.1,273.8 554.6,273.6 C555.0,273.4 555.5,273.3 556.0,273.1 C556.5,272.9 556.9,272.8 557.4,272.6 C557.9,272.4 558.3,272.3 558.8,272.1 C559.3,271.9 559.8,271.8 560.2,271.6 C560.7,271.5 561.2,271.3 561.7,271.1 C562.1,271.0 562.6,270.8 563.1,270.6 C563.5,270.5 564.0,270.3 564.5,270.1 C565.0,270.0 565.4,269.8 565.9,269.6 C566.4,269.5 566.8,269.3 567.3,269.1 C567.8,269.0 568.3,268.8 568.7,268.6 C569.2,268.5 569.7,268.3 570.1,268.1 C570.6,267.9 571.1,267.8 571.5,267.6 C572.0,267.4 572.5,267.2 572.9,267.1 C573.4,266.9 573.9,266.7 574.3,266.5 C574.8,266.3 575.3,266.1 575.7,266.0 C576.2,265.8 576.7,265.6 577.1,265.4 C577.6,265.2 578.1,265.0 578.5,264.9 C579.0,264.7 579.4,264.5 579.9,264.3 C580.4,264.1 580.8,263.9 581.3,263.7 C581.7,263.5 582.2,263.2 582.6,263.0 C583.1,262.8 583.5,262.6 584.0,262.4 C584.4,262.2 584.9,262.0 585.3,261.7 C585.8,261.5 586.2,261.3 586.7,261.1 C587.1,260.9 587.6,260.7 588.1,260.5 C588.5,260.3 589.0,260.0 589.4,259.8 C589.9,259.7 590.4,259.5 590.8,259.3 C591.3,259.1 591.8,258.9 592.2,258.8 C592.7,258.6 593.2,258.4 593.6,258.3 C594.1,258.1 594.6,257.9 595.1,257.8 C595.5,257.6 596.0,257.5 596.5,257.3 C597.0,257.1 597.4,257.0 597.9,256.8 C598.4,256.7 598.9,256.5 599.3,256.4 C599.8,256.2 600.3,256.1 600.8,255.9 C601.2,255.8 601.7,255.6 602.2,255.5 C602.7,255.4 603.2,255.2 603.6,255.1 C604.1,254.9 604.6,254.8 605.1,254.7 C605.6,254.5 606.0,254.4 606.5,254.3 C607.0,254.1 607.5,254.0 608.0,253.9 C608.5,253.7 608.9,253.6 609.4,253.5 C609.9,253.3 610.4,253.2 610.9,253.1 C611.3,252.9 611.8,252.8 612.3,252.7 C612.8,252.5 613.3,252.4 613.8,252.2 C614.2,252.1 614.7,252.0 615.2,251.8 C615.7,251.7 616.2,251.6 616.6,251.4 C617.1,251.3 617.6,251.2 618.1,251.0 C618.6,250.9 619.1,250.8 619.5,250.7 C620.0,250.5 620.5,250.4 621.0,250.3 C621.5,250.2 622.0,250.1 622.5,250.0 C622.9,249.9 623.4,249.7 623.9,249.6 C624.4,249.5 624.9,249.4 625.4,249.3 C625.9,249.2 626.4,249.1 626.9,249.0 C627.3,248.9 627.8,248.8 628.3,248.7 C628.8,248.6 629.3,248.5 629.8,248.3 C630.3,248.2 630.8,248.1 631.2,248.0 C631.7,247.9 632.2,247.8 632.7,247.7 C633.2,247.6 633.7,247.5 634.2,247.4 C634.7,247.3 635.2,247.2 635.6,247.1 C636.1,247.0 636.6,246.8 637.1,246.7 C637.6,246.6 638.1,246.5 638.6,246.4 C639.1,246.3 639.6,246.2 640.0,246.1 C640.5,246.0 641.0,245.9 641.5,245.8 C642.0,245.7 642.5,245.6 643.0,245.6 C643.5,245.5 644.0,245.4 644.5,245.3 C645.0,245.2 645.4,245.1 645.9,245.0 C646.4,244.9 646.9,244.8 647.4,244.7 C647.9,244.6 648.4,244.5 648.9,244.5 C649.4,244.4 649.9,244.3 650.4,244.2 C650.9,244.1 651.3,244.0 651.8,243.9 C652.3,243.8 652.8,243.7 653.3,243.6 C653.8,243.5 654.3,243.5 654.8,243.4 C655.3,243.3 655.8,243.2 656.3,243.1 C656.8,243.0 657.2,242.9 657.7,242.8 C658.2,242.7 658.7,242.6 659.2,242.5 C659.7,242.4 660.2,242.3 660.7,242.2 C661.2,242.1 661.6,242.0 662.1,241.9 C662.6,241.8 663.1,241.7 663.6,241.5 C664.1,241.4 664.6,241.3 665.1,241.2 C665.5,241.1 666.0,241.0 666.5,240.8 C667.0,240.7 667.5,240.6 668.0,240.5 C668.5,240.4 668.9,240.3 669.4,240.1 C669.9,240.0 670.4,239.9 670.9,239.8 C671.4,239.7 671.9,239.6 672.3,239.4 C672.8,239.3 673.3,239.2 673.8,239.1 C674.3,239.0 674.8,238.9 675.3,238.7 C675.8,238.6 676.2,238.5 676.7,238.4 C677.2,238.3 677.7,238.1 678.2,238.0 C678.7,237.9 679.1,237.8 679.6,237.6 C680.1,237.5 680.6,237.3 681.1,237.2 C681.5,237.0 682.0,236.9 682.5,236.7 C683.0,236.6 683.4,236.4 683.9,236.2 C684.4,236.1 684.9,235.9 685.3,235.8 C685.8,235.6 686.3,235.4 686.7,235.3 C687.2,235.1 687.7,234.9 688.2,234.8 C688.6,234.6 689.1,234.5 689.6,234.3 C690.1,234.1 690.5,234.0 691.0,233.8 C691.5,233.6 691.9,233.5 692.4,233.3 C692.9,233.2 693.4,233.0 693.8,232.8 C694.3,232.7 694.8,232.5 695.3,232.3 C695.7,232.2 696.2,232.0 696.7,231.8 C697.1,231.7 697.6,231.5 698.1,231.3 C698.6,231.2 699.0,231.0 699.5,230.8 C700.0,230.6 700.4,230.4 700.9,230.2 C701.3,230.0 701.8,229.8 702.2,229.6 C702.7,229.4 703.2,229.2 703.6,229.0 C704.1,228.8 704.5,228.6 705.0,228.4 C705.4,228.2 705.9,227.9 706.3,227.7 C706.8,227.5 707.2,227.3 707.7,227.1 C708.1,226.9 708.6,226.7 709.0,226.5 C709.5,226.2 709.9,226.0 710.4,225.8 C710.8,225.6 711.3,225.4 711.8,225.2 C712.2,225.0 712.7,224.8 713.1,224.5 C713.6,224.3 714.0,224.1 714.5,223.9 C714.9,223.7 715.4,223.5 715.8,223.3 C716.3,223.0 716.7,222.8 717.2,222.6 C717.6,222.4 718.1,222.2 718.5,222.0 C719.0,221.8 719.4,221.5 719.9,221.3 C720.3,221.1 720.8,220.9 721.2,220.6 C721.7,220.4 722.1,220.2 722.6,220.0 C723.0,219.7 723.4,219.5 723.9,219.3 C724.3,219.0 724.8,218.8 725.2,218.6 C725.7,218.3 726.1,218.1 726.5,217.9 C727.0,217.6 727.4,217.4 727.9,217.2 C728.3,216.9 728.8,216.7 729.2,216.5 C729.6,216.2 730.1,216.0 730.5,215.8 C731.0,215.5 731.4,215.3 731.9,215.1 C732.3,214.8 732.7,214.6 733.2,214.4 C733.6,214.1 734.1,213.9 734.5,213.7 C735.0,213.4 735.4,213.2 735.8,213.0 C736.3,212.8 736.7,212.5 737.2,212.3 C737.6,212.1 738.1,211.8 738.5,211.6 C738.9,211.4 739.4,211.1 739.8,210.9 C740.3,210.7 740.7,210.4 741.2,210.2 C741.6,210.0 742.1,209.8 742.5,209.5 C742.9,209.3 743.4,209.1 743.8,208.9 C744.3,208.6 744.7,208.4 745.2,208.2 C745.6,208.0 746.1,207.7 746.5,207.5 C747.0,207.3 747.4,207.0 747.8,206.8 C748.3,206.6 748.7,206.4 749.2,206.1 C749.6,205.9 750.1,205.7 750.5,205.5 C751.0,205.2 751.4,205.0 751.9,204.8 C752.3,204.6 752.8,204.3 753.2,204.1 C753.7,203.9 754.1,203.7 754.5,203.4 C755.0,203.2 755.4,203.0 755.9,202.8 C756.3,202.6 756.8,202.3 757.2,202.1 C757.7,201.9 758.1,201.7 758.6,201.5 C759.0,201.3 759.5,201.0 759.9,200.8 C760.4,200.6 760.8,200.4 761.3,200.2 C761.7,200.0 762.2,199.7 762.6,199.5 C763.1,199.3 763.5,199.1 764.0,198.9 C764.4,198.7 764.9,198.4 765.3,198.2 C765.8,198.0 766.2,197.8 766.7,197.6 C767.2,197.4 767.6,197.1 768.1,196.9 C768.5,196.7 769.0,196.5 769.4,196.3 C769.9,196.1 770.5,195.7 770.8,195.6" stroke="#808000"/>
<path d="M446.5,254.8 C446.7,254.8 447.4,254.9 447.8,255.0 C448.3,255.1 448.7,255.2 449.1,255.4 C449.6,255.6 450.1,255.9 450.5,256.1 C451.0,256.2 451.4,256.1 451.9,256.3 C452.3,256.5 452.7,257.0 453.2,257.2 C453.6,257.4 454.0,257.5 454.5,257.7 C454.9,257.9 455.3,257.9 455.7,258.2 C456.2,258.6 456.6,259.5 457.1,259.9 C457.5,260.3 458.0,260.6 458.4,260.7 C458.9,260.8 459.4,260.5 459.8,260.6 C460.3,260.6 460.8,260.9 461.3,261.1 C461.8,261.3 462.2,261.6 462.7,261.8 C463.2,261.9 463.7,261.9 464.2,261.8 C464.7,261.8 465.2,261.6 465.7,261.6 C466.2,261.6 466.6,261.6 467.1,261.8 C467.6,261.9 468.1,262.4 468.6,262.7 C469.1,262.9 469.6,263.2 470.1,263.3 C470.6,263.3 471.1,263.0 471.6,263.0 C472.1,262.9 472.6,262.9 473.1,263.1 C473.6,263.3 474.1,264.0 474.5,264.2 C475.0,264.4 475.5,264.3 476.0,264.3 C476.5,264.3 477.0,264.3 477.5,264.4 C478.0,264.6 478.5,265.2 479.0,265.2 C479.5,265.2 480.0,264.8 480.5,264.5 C481.0,264.3 481.5,263.9 482.0,263.7 C482.5,263.6 483.0,263.6 483.4,263.7 C483.9,263.8 484.4,263.9 484.9,264.2 C485.4,264.5 485.9,265.2 486.4,265.4 C486.9,265.6 487.4,265.6 487.9,265.6 C488.4,265.7 488.9,265.6 489.4,265.7 C489.9,265.8 490.4,266.0 490.9,266.0 C491.4,266.0 491.9,265.8 492.4,265.7 C492.9,265.7 493.3,265.6 493.8,265.6 C494.3,265.5 494.8,265.4 495.3,265.4 C495.8,265.4 496.3,265.5 496.8,265.6 C497.3,265.7 497.8,266.0 498.3,266.1 C498.8,266.2 499.3,266.2 499.8,266.2 C500.3,266.2 500.8,266.1 501.3,266.1 C501.8,266.1 502.3,266.2 502.8,266.2 C503.3,266.2 503.8,266.2 504.3,266.2 C504.8,266.2 505.3,266.2 505.8,266.3 C506.3,266.3 506.8,266.3 507.3,266.3 C507.8,266.3 508.3,266.3 508.8,266.3 C509.3,266.3 509.8,266.3 510.3,266.3 C510.8,266.2 511.3,266.2 511.8,266.2 C512.3,266.2 512.8,266.2 513.3,266.2 C513.8,266.2 514.3,266.3 514.8,266.3 C515.3,266.3 515.8,266.3 516.3,266.3 C516.8,266.3 517.3,266.4 517.8,266.4 C518.3,266.4 518.8,266.5 519.3,266.5 C519.8,266.6 520.3,266.6 520.8,266.6 C521.3,266.7 521.8,266.7 522.3,266.7 C522.8,266.8 523.3,266.8 523.8,266.9 C524.3,266.9 524.8,266.9 525.3,266.9 C525.8,266.9 526.3,266.9 526.8,266.9 C527.3,267.0 527.8,267.0 528.3,267.0 C528.8,267.0 529.3,266.9 529.8,266.9 C530.3,266.9 530.8,266.9 531.3,266.9 C531.8,266.9 532.3,266.9 532.8,266.9 C533.3,266.9 533.8,266.9 534.3,266.9 C534.8,266.9 535.3,266.9 535.8,266.9 C536.3,266.8 536.8,266.8 537.3,266.8 C537.8,266.8 538.3,266.8 538.8,266.8 C539.3,266.8 539.8,266.8 540.3,266.8 C540.8,266.7 541.3,266.7 541.8,266.7 C542.3,266.7 542.8,266.7 543.3,266.6 C543.8,266.6 544.3,266.6 544.8,266.6 C545.3,266.5 545.8,266.5 546.3,266.5 C546.8,266.5 547.3,266.4 547.8,266.4 C548.3,266.4 548.8,266.4 549.3,266.3 C549.8,266.3 550.3,266.3 550.8,266.3 C551.3,266.2 551.8,266.2 552.3,266.2 C552.8,266.2 553.3,266.1 553.8,266.1 C554.3,266.1 554.8,266.1 555.3,266.0 C555.8,266.0 556.3,266.0 556.8,266.0 C557.3,265.9 557.8,265.9 558.3,265.9 C558.8,265.9 559.3,265.8 559.8,265.8 C560.3,265.8 560.8,265.7 561.3,265.7 C561.8,265.7 562.3,265.6 562.8,265.6 C563.3,265.6 563.8,265.5 564.3,265.5 C564.8,265.5 565.3,265.4 565.8,265.4 C566.3,265.4 566.8,265.3 567.3,265.3 C567.8,265.3 568.3,265.2 568.8,265.2 C569.3,265.2 569.8,265.1 570.3,265.1 C570.8,265.0 571.3,265.0 571.8,265.0 C572.3,264.9 572.8,264.9 573.3,264.9 C573.8,264.8 574.3,264.8 574.8,264.8 C575.3,264.7 575.8,264.7 576.3,264.7 C576.8,264.6 577.3,264.6 577.8,264.6 C578.2,264.5 578.7,264.5 579.2,264.4 C579.7,264.4 580.2,264.3 580.7,264.3 C581.2,264.2 581.7,264.2 582.2,264.1 C582.7,264.1 583.2,264.0 583.7,264.0 C584.2,263.9 584.7,263.9 585.2,263.8 C585.7,263.8 586.2,263.7 586.7,263.7 C587.2,263.6 587.7,263.6 588.2,263.5 C588.7,263.4 589.2,263.4 589.7,263.3 C590.2,263.3 590.7,263.2 591.2,263.2 C591.7,263.1 592.2,263.1 592.7,263.0 C593.2,263.0 593.7,262.9 594.2,262.8 C594.7,262.8 595.2,262.7 595.7,262.7 C596.1,262.6 596.6,262.6 597.1,262.5 C597.6,262.5 598.1,262.4 598.6,262.4 C599.1,262.3 599.6,262.2 600.1,262.2 C600.6,262.1 601.1,262.1 601.6,262.0 C602.1,262.0 602.6,261.9 603.1,261.9 C603.6,261.8 604.1,261.8 604.6,261.7 C605.1,261.7 605.6,261.6 606.1,261.6 C606.6,261.5 607.1,261.5 607.6,261.4 C608.1,261.4 608.6,261.3 609.1,261.2 C609.6,261.2 610.1,261.1 610.6,261.1 C611.1,261.0 611.6,261.0 612.1,260.9 C612.6,260.9 613.1,260.8 613.6,260.8 C614.0,260.7 614.5,260.7 615.0,260.6 C615.5,260.6 616.0,260.5 616.5,260.5 C617.0,260.4 617.5,260.4 618.0,260.3 C618.5,260.3 619.0,260.2 619.5,260.2 C620.0,260.1 620.5,260.1 621.0,260.1 C621.5,260.1 622.0,260.0 622.5,260.0 C623.0,260.0 623.5,259.9 624.0,259.9 C624.5,259.9 625.0,259.9 625.5,259.9 C626.0,259.8 626.5,259.8 627.0,259.8 C627.5,259.8 628.0,259.7 628.5,259.7 C629.0,259.7 629.5,259.7 630.0,259.6 C630.5,259.6 631.0,259.6 631.5,259.6 C632.0,259.6 632.5,259.5 633.0,259.5 C633.5,259.5 634.0,259.5 634.5,259.4 C635.0,259.4 635.5,259.4 636.0,259.4 C636.5,259.4 637.0,259.3 637.5,259.3 C638.0,259.3 638.5,259.3 639.0,259.2 C639.5,259.2 640.0,259.2 640.5,259.1 C641.0,259.1 641.5,259.1 642.0,259.0 C642.5,259.0 643.0,259.0 643.5,258.9 C644.0,258.9 644.5,258.9 645.0,258.8 C645.5,258.8 646.0,258.8 646.5,258.7 C647.0,258.7 647.5,258.6 648.0,258.6 C648.5,258.6 649.0,258.5 649.5,258.5 C650.0,258.5 650.5,258.4 651.0,258.4 C651.5,258.3 652.0,258.3 652.5,258.3 C653.0,258.2 653.5,258.2 654.0,258.2 C654.5,258.1 655.0,258.1 655.5,258.0 C656.0,258.0 656.5,258.0 657.0,257.9 C657.4,257.9 657.9,257.9 658.4,257.8 C658.9,257.8 659.4,257.7 659.9,257.7 C660.4,257.7 660.9,257.6 661.4,257.6 C661.9,257.6 662.4,257.5 662.9,257.5 C663.4,257.5 663.9,257.4 664.4,257.4 C664.9,257.4 665.4,257.3 665.9,257.3 C666.4,257.3 666.9,257.2 667.4,257.2 C667.9,257.2 668.4,257.2 668.9,257.1 C669.4,257.1 669.9,257.1 670.4,257.0 C670.9,257.0 671.4,257.0 671.9,256.9 C672.4,256.9 672.9,256.9 673.4,256.8 C673.9,256.8 674.4,256.8 674.9,256.7 C675.4,256.7 675.9,256.7 676.4,256.6 C676.9,256.6 677.4,256.6 677.9,256.5 C678.4,256.5 678.9,256.4 679.4,256.4 C679.9,256.3 680.4,256.3 680.9,256.2 C681.4,256.2 681.9,256.1 682.4,256.0 C682.9,256.0 683.4,255.9 683.9,255.8 C684.4,255.8 684.9,255.7 685.3,255.6 C685.8,255.6 686.3,255.5 686.8,255.4 C687.3,255.3 687.8,255.3 688.3,255.2 C688.8,255.1 689.3,255.1 689.8,255.0 C690.3,254.9 690.8,254.8 691.3,254.8 C691.8,254.7 692.3,254.6 692.8,254.5 C693.3,254.5 693.8,254.4 694.3,254.3 C694.7,254.3 695.2,254.2 695.7,254.1 C696.2,254.0 696.7,254.0 697.2,253.9 C697.7,253.8 698.2,253.7 698.7,253.7 C699.2,253.6 699.7,253.5 700.2,253.4 C700.7,253.3 701.2,253.2 701.7,253.1 C702.1,253.0 702.6,252.9 703.1,252.8 C703.6,252.7 704.1,252.6 704.6,252.5 C705.1,252.4 705.6,252.3 706.1,252.2 C706.5,252.1 707.0,252.0 707.5,251.9 C708.0,251.8 708.5,251.7 709.0,251.6 C709.5,251.4 710.0,251.3 710.5,251.2 C710.9,251.1 711.4,251.0 711.9,250.9 C712.4,250.8 712.9,250.7 713.4,250.6 C713.9,250.5 714.4,250.4 714.9,250.3 C715.3,250.2 715.8,250.1 716.3,250.0 C716.8,249.9 717.3,249.8 717.8,249.7 C718.3,249.6 718.8,249.4 719.2,249.3 C719.7,249.2 720.2,249.1 720.7,249.0 C721.2,248.9 721.7,248.7 722.2,248.6 C722.6,248.5 723.1,248.3 723.6,248.2 C724.1,248.1 724.6,247.9 725.1,247.8 C725.5,247.7 726.0,247.5 726.5,247.4 C727.0,247.2 727.4,247.1 727.9,246.9 C728.4,246.8 728.9,246.6 729.3,246.4 C729.8,246.3 730.3,246.1 730.7,245.9 C731.2,245.7 731.7,245.5 732.1,245.4 C732.6,245.2 733.1,245.0 733.6,244.9 C734.0,244.7 734.5,244.6 735.0,244.4 C735.5,244.3 735.9,244.1 736.4,244.0 C736.9,243.8 737.4,243.7 737.9,243.6 C738.4,243.5 738.8,243.3 739.3,243.2 C739.8,243.1 740.3,242.9 740.8,242.8 C741.2,242.6 741.7,242.5 742.2,242.3 C742.7,242.2 743.1,242.0 743.6,241.8 C744.1,241.7 744.5,241.5 745.0,241.3 C745.5,241.1 745.9,240.9 746.4,240.7 C746.9,240.5 747.3,240.4 747.8,240.2 C748.2,240.0 748.7,239.8 749.2,239.6 C749.6,239.4 750.1,239.1 750.5,238.9 C751.0,238.7 751.4,238.5 751.8,238.2 C752.3,238.0 752.7,237.8 753.2,237.5 C753.6,237.3 754.0,237.0 754.5,236.8 C754.9,236.5 755.3,236.2 755.7,236.0 C756.2,235.7 756.6,235.4 757.0,235.2 C757.4,234.9 757.8,234.6 758.2,234.3 C758.7,234.1 759.1,233.8 759.5,233.5 C759.9,233.2 760.3,232.9 760.7,232.6 C761.1,232.3 761.5,232.0 761.9,231.7 C762.3,231.4 762.7,231.1 763.1,230.8 C763.5,230.5 763.9,230.2 764.3,229.9 C764.7,229.6 765.1,229.3 765.5,229.0 C765.9,228.7 766.3,228.4 766.7,228.1 C767.1,227.8 767.5,227.5 767.9,227.2 C768.3,226.9 768.7,226.6 769.1,226.3 C769.5,226.0 770.1,225.5 770.3,225.4" stroke="#007400"/>
<path d="M446.5,268.4 C446.7,268.4 447.4,268.7 447.9,268.6 C448.4,268.5 448.8,268.0 449.3,267.9 C449.8,267.7 450.2,267.5 450.7,267.7 C451.1,267.9 451.6,268.6 452.0,269.3 C452.4,270.1 452.8,271.6 453.2,272.4 C453.6,273.2 454.0,273.9 454.4,274.4 C454.8,274.8 455.2,274.9 455.6,275.0 C456.0,275.2 456.3,275.3 456.7,275.4 C457.1,275.5 457.5,275.4 457.8,275.5 C458.2,275.6 458.6,275.8 459.0,276.1 C459.4,276.4 459.8,277.1 460.3,277.2 C460.7,277.4 461.1,277.3 461.6,277.2 C462.0,277.2 462.5,277.1 463.0,277.2 C463.5,277.2 464.0,277.4 464.5,277.5 C465.0,277.6 465.5,277.7 466.0,277.8 C466.5,277.9 467.0,278.1 467.5,278.0 C467.9,278.0 468.4,277.7 468.9,277.5 C469.4,277.3 469.8,276.9 470.3,276.7 C470.8,276.6 471.3,276.7 471.7,276.6 C472.2,276.6 472.7,276.6 473.1,276.4 C473.6,276.2 474.1,275.6 474.5,275.3 C475.0,275.0 475.4,274.8 475.9,274.6 C476.4,274.3 476.8,274.2 477.3,273.9 C477.8,273.6 478.2,272.9 478.7,272.7 C479.2,272.4 479.6,272.4 480.1,272.5 C480.6,272.6 481.1,273.1 481.5,273.2 C482.0,273.3 482.5,273.4 483.0,273.2 C483.5,273.1 484.0,272.5 484.5,272.3 C485.0,272.1 485.5,272.0 486.0,272.0 C486.5,272.0 487.0,272.3 487.5,272.3 C488.0,272.2 488.4,271.9 488.9,271.8 C489.4,271.6 489.9,271.4 490.4,271.2 C490.9,271.1 491.4,271.1 491.9,271.0 C492.4,270.9 492.9,270.6 493.3,270.4 C493.8,270.3 494.3,270.2 494.8,270.1 C495.3,269.9 495.8,269.9 496.3,269.7 C496.7,269.6 497.2,269.4 497.7,269.2 C498.2,269.1 498.7,269.1 499.1,268.9 C499.6,268.8 500.1,268.6 500.5,268.5 C501.0,268.3 501.4,268.0 501.9,267.8 C502.3,267.6 502.7,267.3 503.2,267.0 C503.6,266.8 504.0,266.5 504.4,266.2 C504.9,266.0 505.3,265.7 505.7,265.4 C506.1,265.1 506.5,264.9 506.9,264.6 C507.3,264.3 507.8,264.0 508.2,263.7 C508.6,263.4 509.0,263.1 509.4,262.9 C509.8,262.6 510.2,262.3 510.6,262.0 C511.0,261.7 511.5,261.5 511.9,261.2 C512.3,260.9 512.7,260.7 513.2,260.4 C513.6,260.2 514.0,259.9 514.5,259.7 C514.9,259.4 515.4,259.2 515.8,259.0 C516.2,258.7 516.7,258.5 517.1,258.3 C517.6,258.0 518.0,257.8 518.5,257.6 C518.9,257.4 519.4,257.1 519.8,256.9 C520.2,256.7 520.7,256.5 521.1,256.2 C521.6,256.0 522.0,255.8 522.5,255.6 C522.9,255.3 523.4,255.1 523.8,254.8 C524.2,254.6 524.7,254.4 525.1,254.1 C525.5,253.9 526.0,253.6 526.4,253.3 C526.8,253.1 527.3,252.8 527.7,252.6 C528.1,252.3 528.5,252.1 529.0,251.8 C529.4,251.6 529.8,251.3 530.3,251.1 C530.7,250.8 531.1,250.6 531.6,250.3 C532.0,250.1 532.4,249.8 532.9,249.6 C533.3,249.3 533.8,249.1 534.2,248.9 C534.6,248.6 535.1,248.4 535.5,248.1 C536.0,247.9 536.4,247.7 536.8,247.4 C537.3,247.2 537.7,247.0 538.2,246.8 C538.6,246.5 539.1,246.3 539.5,246.1 C540.0,245.8 540.4,245.6 540.8,245.4 C541.3,245.2 541.7,245.0 542.2,244.7 C542.6,244.5 543.1,244.3 543.5,244.1 C544.0,243.8 544.4,243.6 544.9,243.4 C545.3,243.2 545.8,243.0 546.2,242.7 C546.7,242.5 547.1,242.3 547.6,242.1 C548.0,241.8 548.5,241.6 548.9,241.4 C549.3,241.1 549.8,240.9 550.2,240.7 C550.6,240.4 551.1,240.1 551.5,239.9 C551.9,239.6 552.3,239.3 552.7,239.0 C553.2,238.8 553.6,238.5 554.0,238.2 C554.4,237.9 554.8,237.7 555.2,237.4 C555.7,237.1 556.1,236.8 556.5,236.6 C556.9,236.3 557.3,236.0 557.7,235.7 C558.2,235.4 558.6,235.2 559.0,234.9 C559.4,234.6 559.8,234.3 560.2,234.1 C560.7,233.8 561.1,233.5 561.5,233.3 C561.9,233.0 562.4,232.7 562.8,232.5 C563.2,232.2 563.6,232.0 564.1,231.7 C564.5,231.4 564.9,231.2 565.3,230.9 C565.8,230.7 566.2,230.4 566.6,230.2 C567.1,229.9 567.5,229.6 567.9,229.4 C568.4,229.1 568.8,228.9 569.2,228.6 C569.7,228.4 570.1,228.1 570.5,227.9 C571.0,227.6 571.4,227.4 571.8,227.1 C572.3,226.9 572.7,226.6 573.1,226.4 C573.6,226.1 574.0,225.9 574.4,225.6 C574.8,225.4 575.3,225.1 575.7,224.8 C576.1,224.6 576.6,224.3 577.0,224.1 C577.4,223.8 577.8,223.5 578.3,223.3 C578.7,223.0 579.1,222.7 579.5,222.5 C580.0,222.2 580.4,222.0 580.8,221.7 C581.2,221.4 581.6,221.2 582.1,220.9 C582.5,220.6 582.9,220.3 583.3,220.1 C583.7,219.8 584.2,219.5 584.6,219.2 C585.0,218.9 585.4,218.6 585.8,218.3 C586.2,218.1 586.6,217.8 587.0,217.5 C587.4,217.2 587.8,216.9 588.2,216.6 C588.6,216.3 589.0,216.0 589.4,215.7 C589.8,215.4 590.2,215.1 590.6,214.8 C591.1,214.5 591.5,214.3 591.9,214.0 C592.3,213.7 592.7,213.4 593.1,213.2 C593.6,212.9 594.0,212.6 594.4,212.3 C594.8,212.1 595.2,211.8 595.7,211.5 C596.1,211.3 596.5,211.0 596.9,210.7 C597.3,210.4 597.7,210.2 598.2,209.9 C598.6,209.6 599.0,209.3 599.4,209.1 C599.8,208.8 600.3,208.5 600.7,208.3 C601.1,208.0 601.5,207.7 601.9,207.4 C602.4,207.2 602.8,206.9 603.2,206.6 C603.6,206.4 604.1,206.1 604.5,205.8 C604.9,205.6 605.3,205.3 605.7,205.0 C606.2,204.8 606.6,204.5 607.0,204.2 C607.4,204.0 607.9,203.7 608.3,203.4 C608.7,203.2 609.1,202.9 609.5,202.6 C610.0,202.4 610.4,202.1 610.8,201.8 C611.2,201.6 611.7,201.3 612.1,201.0 C612.5,200.8 612.9,200.5 613.4,200.2 C613.8,200.0 614.2,199.7 614.6,199.4 C615.1,199.2 615.5,198.9 615.9,198.7 C616.3,198.4 616.8,198.2 617.2,197.9 C617.6,197.6 618.1,197.4 618.5,197.1 C618.9,196.9 619.4,196.6 619.8,196.4 C620.2,196.1 620.6,195.9 621.1,195.6 C621.5,195.4 621.9,195.1 622.4,194.8 C622.8,194.6 623.2,194.3 623.7,194.1 C624.1,193.8 624.5,193.6 625.0,193.3 C625.4,193.1 625.8,192.8 626.2,192.6 C626.7,192.3 627.1,192.1 627.6,191.8 C628.0,191.6 628.4,191.3 628.9,191.1 C629.3,190.8 629.7,190.6 630.2,190.4 C630.6,190.1 631.1,189.9 631.5,189.6 C631.9,189.4 632.4,189.2 632.8,188.9 C633.2,188.7 633.7,188.4 634.1,188.2 C634.6,188.0 635.0,187.7 635.4,187.5 C635.9,187.3 636.3,187.0 636.8,186.8 C637.2,186.5 637.6,186.3 638.1,186.1 C638.5,185.8 639.0,185.6 639.4,185.4 C639.8,185.1 640.3,184.9 640.7,184.7 C641.2,184.4 641.6,184.2 642.1,184.0 C642.5,183.7 643.0,183.5 643.4,183.3 C643.8,183.1 644.3,182.9 644.7,182.6 C645.2,182.4 645.6,182.2 646.1,182.0 C646.5,181.7 647.0,181.5 647.4,181.3 C647.9,181.1 648.3,180.8 648.8,180.6 C649.2,180.4 649.7,180.2 650.1,179.9 C650.6,179.7 651.0,179.5 651.5,179.3 C651.9,179.0 652.3,178.8 652.8,178.6 C653.2,178.4 653.7,178.1 654.1,177.9 C654.6,177.7 655.0,177.5 655.5,177.2 C655.9,177.0 656.3,176.8 656.8,176.5 C657.2,176.3 657.7,176.0 658.1,175.8 C658.5,175.6 659.0,175.3 659.4,175.1 C659.9,174.8 660.3,174.6 660.7,174.4 C661.2,174.1 661.6,173.9 662.0,173.6 C662.5,173.4 662.9,173.2 663.4,172.9 C663.8,172.7 664.2,172.4 664.7,172.2 C665.1,172.0 665.6,171.7 666.0,171.5 C666.4,171.2 666.9,171.0 667.3,170.8 C667.7,170.5 668.2,170.3 668.6,170.0 C669.1,169.8 669.5,169.5 669.9,169.3 C670.4,169.0 670.8,168.8 671.2,168.5 C671.6,168.2 672.1,168.0 672.5,167.7 C672.9,167.5 673.3,167.2 673.8,166.9 C674.2,166.7 674.6,166.4 675.0,166.1 C675.4,165.9 675.9,165.6 676.3,165.3 C676.7,165.1 677.1,164.8 677.6,164.5 C678.0,164.2 678.4,164.0 678.8,163.7 C679.2,163.4 679.7,163.2 680.1,162.9 C680.5,162.6 680.9,162.4 681.4,162.1 C681.8,161.8 682.2,161.6 682.6,161.3 C683.0,161.0 683.5,160.8 683.9,160.5 C684.3,160.2 684.7,160.0 685.2,159.7 C685.6,159.4 686.0,159.2 686.4,158.9 C686.9,158.6 687.3,158.4 687.7,158.1 C688.1,157.8 688.5,157.6 689.0,157.3 C689.4,157.0 689.8,156.8 690.2,156.5 C690.7,156.2 691.1,156.0 691.5,155.7 C691.9,155.5 692.4,155.2 692.8,154.9 C693.2,154.7 693.6,154.4 694.1,154.1 C694.5,153.9 694.9,153.6 695.3,153.3 C695.7,153.1 696.2,152.8 696.6,152.5 C697.0,152.3 697.4,152.0 697.9,151.7 C698.3,151.5 698.7,151.2 699.1,150.9 C699.5,150.7 700.0,150.4 700.4,150.1 C700.8,149.8 701.2,149.5 701.6,149.3 C702.0,149.0 702.4,148.7 702.9,148.4 C703.3,148.1 703.7,147.8 704.1,147.5 C704.5,147.3 704.9,147.0 705.3,146.7 C705.7,146.4 706.1,146.1 706.5,145.8 C707.0,145.5 707.4,145.2 707.8,145.0 C708.2,144.7 708.6,144.4 709.0,144.1 C709.4,143.8 709.8,143.5 710.2,143.2 C710.6,143.0 711.0,142.7 711.5,142.4 C711.9,142.1 712.3,141.8 712.7,141.5 C713.1,141.2 713.5,140.9 713.9,140.6 C714.3,140.3 714.7,140.0 715.1,139.7 C715.5,139.4 715.8,139.1 716.2,138.7 C716.6,138.4 717.0,138.1 717.3,137.7 C717.7,137.4 718.1,137.1 718.5,136.7 C718.8,136.4 719.2,136.1 719.6,135.7 C719.9,135.4 720.3,135.1 720.7,134.7 C721.0,134.4 721.4,134.0 721.8,133.7 C722.2,133.4 722.5,133.0 722.9,132.7 C723.3,132.4 723.6,132.0 724.0,131.7 C724.4,131.4 724.8,131.0 725.1,130.7 C725.5,130.4 725.9,130.1 726.3,129.7 C726.6,129.4 727.0,129.1 727.4,128.7 C727.8,128.4 728.1,128.1 728.5,127.7 C728.9,127.4 729.3,127.1 729.6,126.7 C730.0,126.4 730.4,126.1 730.8,125.7 C731.1,125.4 731.5,125.1 731.9,124.8 C732.3,124.4 732.6,124.1 733.0,123.8 C733.4,123.4 733.8,123.1 734.1,122.8 C734.5,122.4 734.9,122.1 735.3,121.8 C735.6,121.4 736.0,121.1 736.4,120.8 C736.8,120.5 737.1,120.1 737.5,119.8 C737.9,119.5 738.3,119.1 738.6,118.8 C739.0,118.5 739.4,118.2 739.8,117.8 C740.2,117.5 740.5,117.2 740.9,116.9 C741.3,116.6 741.7,116.2 742.1,115.9 C742.5,115.6 742.9,115.3 743.3,115.0 C743.7,114.7 744.0,114.3 744.4,114.0 C744.8,113.7 745.2,113.4 745.6,113.1 C746.0,112.7 746.3,112.4 746.7,112.1 C747.1,111.8 747.5,111.4 747.8,111.1 C748.2,110.8 748.6,110.4 748.9,110.1 C749.3,109.7 749.7,109.4 750.0,109.0 C750.4,108.7 750.7,108.3 751.0,107.9 C751.4,107.6 751.7,107.2 752.1,106.8 C752.4,106.5 752.7,106.1 753.1,105.7 C753.4,105.3 753.7,105.0 754.0,104.6 C754.4,104.2 754.7,103.8 755.0,103.4 C755.3,103.1 755.7,102.7 756.0,102.3 C756.3,101.9 756.6,101.5 757.0,101.2 C757.3,100.8 757.6,100.4 757.9,100.0 C758.2,99.6 758.5,99.2 758.9,98.8 C759.2,98.5 759.5,98.1 759.8,97.7 C760.1,97.3 760.4,96.9 760.7,96.5 C761.0,96.1 761.3,95.7 761.6,95.3 C761.9,94.9 762.2,94.5 762.5,94.1 C762.8,93.7 763.1,93.3 763.4,92.9 C763.7,92.5 764.0,92.1 764.3,91.7 C764.6,91.3 764.9,90.9 765.2,90.5 C765.5,90.1 765.8,89.7 766.1,89.3 C766.4,88.9 766.7,88.5 767.0,88.1 C767.3,87.7 767.6,87.3 767.9,86.9 C768.2,86.5 768.5,86.1 768.8,85.7 C769.1,85.3 769.4,84.9 769.7,84.5 C770.0,84.1 770.3,83.7 770.6,83.2 C770.9,82.8 771.3,82.2 771.4,82.0" stroke="#ff0a80"/>
</g>
<circle cx="58.2" cy="137.5" r="3" fill="#007400"/>
<circle cx="58.2" cy="124.8" r="2.9" fill="#ff0a80"/>
<circle cx="448" cy="254.2" r="3" fill="#007400"/>
<circle cx="448" cy="268" r="2.9" fill="#ff0a80"/>
<path d="M56.7,7 H380.6 V286.7 H56.7 Z" fill="none" stroke="#000" stroke-width="2.6" stroke-linejoin="miter"/>
<line x1="51.7" y1="7" x2="56.7" y2="7" stroke="#000" stroke-width="2.6"/>
<text transform="translate(47.3,11.7) scale(0.96,1)" text-anchor="end" class="yt">2.5</text>
<line x1="51.7" y1="154.5" x2="56.7" y2="154.5" stroke="#000" stroke-width="2.6"/>
<text transform="translate(47.3,159.2) scale(0.96,1)" text-anchor="end" class="yt">2.0</text>
<line x1="53.2" y1="80.8" x2="56.7" y2="80.8" stroke="#000" stroke-width="2.4"/>
<line x1="53.2" y1="228" x2="56.7" y2="228" stroke="#000" stroke-width="2.4"/>
<line x1="56.7" y1="286.7" x2="56.7" y2="291.7" stroke="#000" stroke-width="2.6"/>
<text transform="translate(57.9,308) scale(0.9,1)" text-anchor="middle" class="xt">350</text>
<line x1="89.1" y1="286.7" x2="89.1" y2="289.7" stroke="#000" stroke-width="2.4"/>
<line x1="121.5" y1="286.7" x2="121.5" y2="291.7" stroke="#000" stroke-width="2.6"/>
<text transform="translate(119.4,308) scale(0.9,1)" text-anchor="middle" class="xt">450</text>
<line x1="153.9" y1="286.7" x2="153.9" y2="289.7" stroke="#000" stroke-width="2.4"/>
<line x1="186.3" y1="286.7" x2="186.3" y2="291.7" stroke="#000" stroke-width="2.6"/>
<text transform="translate(185.8,308) scale(0.9,1)" text-anchor="middle" class="xt">550</text>
<line x1="218.7" y1="286.7" x2="218.7" y2="289.7" stroke="#000" stroke-width="2.4"/>
<line x1="251.0" y1="286.7" x2="251.0" y2="291.7" stroke="#000" stroke-width="2.6"/>
<text transform="translate(251.8,308) scale(0.9,1)" text-anchor="middle" class="xt">650</text>
<line x1="283.4" y1="286.7" x2="283.4" y2="289.7" stroke="#000" stroke-width="2.4"/>
<line x1="315.8" y1="286.7" x2="315.8" y2="291.7" stroke="#000" stroke-width="2.6"/>
<text transform="translate(318,308) scale(0.9,1)" text-anchor="middle" class="xt">750</text>
<line x1="348.2" y1="286.7" x2="348.2" y2="289.7" stroke="#000" stroke-width="2.4"/>
<line x1="380.6" y1="286.7" x2="380.6" y2="291.7" stroke="#000" stroke-width="2.6"/>
<text transform="translate(379.3,308) scale(0.9,1)" text-anchor="middle" class="xt">850</text>
<path d="M446.1,14.5 H773 V296.1 H446.1 Z" fill="none" stroke="#000" stroke-width="2.6" stroke-linejoin="miter"/>
<line x1="441.1" y1="14.5" x2="446.1" y2="14.5" stroke="#000" stroke-width="2.6"/>
<text transform="translate(436.6,19.4) scale(0.96,1)" text-anchor="end" class="yt">3</text>
<line x1="441.1" y1="127.3" x2="446.1" y2="127.3" stroke="#000" stroke-width="2.6"/>
<text transform="translate(436.6,131.8) scale(0.96,1)" text-anchor="end" class="yt">2</text>
<line x1="441.1" y1="239.7" x2="446.1" y2="239.7" stroke="#000" stroke-width="2.6"/>
<text transform="translate(436.6,243.9) scale(0.96,1)" text-anchor="end" class="yt">1</text>
<line x1="442.6" y1="70.9" x2="446.1" y2="70.9" stroke="#000" stroke-width="2.4"/>
<line x1="442.6" y1="183.7" x2="446.1" y2="183.7" stroke="#000" stroke-width="2.4"/>
<line x1="442.6" y1="296.1" x2="446.1" y2="296.1" stroke="#000" stroke-width="2.4"/>
<line x1="446.1" y1="296.1" x2="446.1" y2="301.1" stroke="#000" stroke-width="2.6"/>
<text transform="translate(446.3,317.7) scale(0.9,1)" text-anchor="middle" class="xt">350</text>
<line x1="478.8" y1="296.1" x2="478.8" y2="299.1" stroke="#000" stroke-width="2.4"/>
<line x1="511.5" y1="296.1" x2="511.5" y2="301.1" stroke="#000" stroke-width="2.6"/>
<text transform="translate(512.3,317.7) scale(0.9,1)" text-anchor="middle" class="xt">450</text>
<line x1="544.2" y1="296.1" x2="544.2" y2="299.1" stroke="#000" stroke-width="2.4"/>
<line x1="576.9" y1="296.1" x2="576.9" y2="301.1" stroke="#000" stroke-width="2.6"/>
<text transform="translate(578.7,317.7) scale(0.9,1)" text-anchor="middle" class="xt">550</text>
<line x1="609.5" y1="296.1" x2="609.5" y2="299.1" stroke="#000" stroke-width="2.4"/>
<line x1="642.2" y1="296.1" x2="642.2" y2="301.1" stroke="#000" stroke-width="2.6"/>
<text transform="translate(644.2,317.7) scale(0.9,1)" text-anchor="middle" class="xt">650</text>
<line x1="674.9" y1="296.1" x2="674.9" y2="299.1" stroke="#000" stroke-width="2.4"/>
<line x1="707.6" y1="296.1" x2="707.6" y2="301.1" stroke="#000" stroke-width="2.6"/>
<text transform="translate(709,317.7) scale(0.9,1)" text-anchor="middle" class="xt">750</text>
<line x1="740.3" y1="296.1" x2="740.3" y2="299.1" stroke="#000" stroke-width="2.4"/>
<line x1="773.0" y1="296.1" x2="773.0" y2="301.1" stroke="#000" stroke-width="2.6"/>
<text transform="translate(776,317.7) scale(0.9,1)" text-anchor="middle" class="xt">850</text>
<line x1="266" y1="34.5" x2="288" y2="34.5" stroke="#0a7a1a" stroke-width="3.6"/>
<text transform="translate(299.8,37.4) scale(0.963,1)" class="lg">pH = 2.6</text>
<line x1="266" y1="52" x2="288" y2="52" stroke="#f5105f" stroke-width="3.6"/>
<text transform="translate(299.8,54.6) scale(0.963,1)" class="lg">pH = 2.4</text>
<line x1="266" y1="69.5" x2="288" y2="69.5" stroke="#c89628" stroke-width="3.6"/>
<text transform="translate(299.8,72.0) scale(0.963,1)" class="lg">pH = 2.2</text>
<text transform="translate(270.5,97.8) scale(0.925,1)" class="pot">Pot.= -0.8 V</text>
<line x1="659" y1="30.9" x2="681" y2="30.9" stroke="#0a7a1a" stroke-width="3.6"/>
<text transform="translate(693.5,33) scale(0.963,1)" class="lg">pH = 2.6</text>
<line x1="659" y1="48.1" x2="681" y2="48.1" stroke="#f5105f" stroke-width="3.6"/>
<text transform="translate(693.5,51) scale(0.963,1)" class="lg">pH = 2.4</text>
<line x1="659" y1="65.6" x2="681" y2="65.6" stroke="#c89628" stroke-width="3.6"/>
<text transform="translate(693.5,68.6) scale(0.963,1)" class="lg">pH = 2.2</text>
<text transform="translate(663.3,94.8) scale(0.925,1)" class="pot">Pot.= -0.8 V</text>
<text x="89" y="42" class="pl">a)</text>
<text x="474.5" y="53.2" class="pl">b)</text>
<text transform="translate(19,210.2) rotate(-90) scale(0.965,1)" class="ttl" style="font-size:24.4px">Absorbance</text>
<text transform="translate(411.7,202.9) rotate(-90)" class="ttl" style="font-size:24.1px">Transmission</text>
<text transform="translate(182.1,332.7) scale(1.25,1)" class="lamg">λ</text><text transform="translate(194.7,332.7) scale(0.95,1)" class="lam">(nm)</text>
<text transform="translate(576,338.7) scale(1.25,1)" class="lamg">λ</text><text transform="translate(588.6,338.7) scale(0.95,1)" class="lam">(nm)</text>
</svg>
</body></html>
